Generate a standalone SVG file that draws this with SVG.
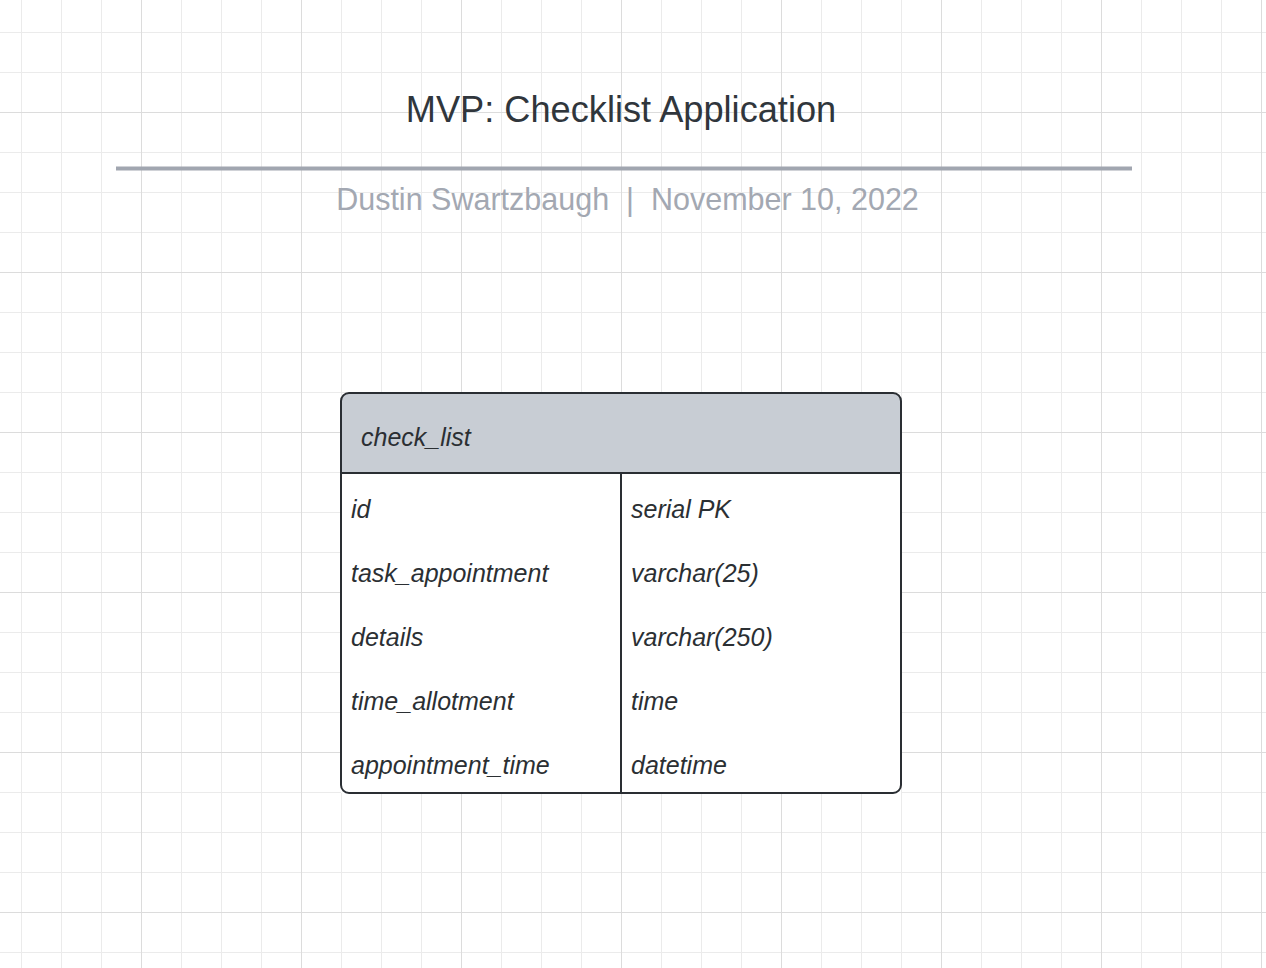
<svg xmlns="http://www.w3.org/2000/svg" width="1266" height="968" viewBox="0 0 1266 968">
<defs>
<pattern id="minor" x="21" y="32" width="40" height="40" patternUnits="userSpaceOnUse">
<path d="M0.5 0 V40 M0 0.5 H40" fill="none" stroke="#ebebeb" stroke-width="1"/>
</pattern>
<pattern id="major" x="141" y="112" width="160" height="160" patternUnits="userSpaceOnUse">
<path d="M0.5 0 V160 M0 0.5 H160" fill="none" stroke="#dcdcdc" stroke-width="1"/>
</pattern>
</defs>
<style>
.cell{font-family:"Liberation Sans",Arial,sans-serif;font-style:italic;font-size:25px;fill:#2b2f33}
.title{font-family:"Liberation Sans",Arial,sans-serif;font-size:36.2px;fill:#30363c}
.sub{font-family:"Liberation Sans",Arial,sans-serif;font-size:30.5px;fill:#a3a8b2}
.frame{fill:none;stroke:#2a2e33;stroke-width:2}
</style>
<rect width="1266" height="968" fill="#ffffff"/>
<rect width="1266" height="968" fill="url(#minor)"/>
<rect width="1266" height="968" fill="url(#major)"/>
<g id="header">
<text class="title" x="621" y="122" text-anchor="middle">MVP: Checklist Application</text>
<rect x="116" y="166.5" width="1016" height="4" fill="#a1a6b0"/>
<text class="sub" x="627.5" y="209.5" text-anchor="middle" xml:space="preserve">Dustin Swartzbaugh  |  November 10, 2022</text>
</g>
<g id="connectors"></g>
<g id="check_list">
<path d="M341 473 V401 Q341 393 349 393 H893 Q901 393 901 401 V473 Z" fill="#c8cdd4"/>
<rect x="341" y="473" width="560" height="320" fill="#ffffff"/>
<rect class="frame" x="341" y="393" width="560" height="400" rx="8" ry="8"/>
<line class="frame" x1="341" y1="473" x2="901" y2="473"/>
<line class="frame" x1="621" y1="473" x2="621" y2="793"/>
<text class="cell" x="361" y="446">check_list</text>
<text class="cell" x="351" y="518">id</text>
<text class="cell" x="351" y="582">task_appointment</text>
<text class="cell" x="351" y="646">details</text>
<text class="cell" x="351" y="710">time_allotment</text>
<text class="cell" x="351" y="774">appointment_time</text>
<text class="cell" x="631" y="518">serial PK</text>
<text class="cell" x="631" y="582">varchar(25)</text>
<text class="cell" x="631" y="646">varchar(250)</text>
<text class="cell" x="631" y="710">time</text>
<text class="cell" x="631" y="774">datetime</text>
</g>
</svg>
